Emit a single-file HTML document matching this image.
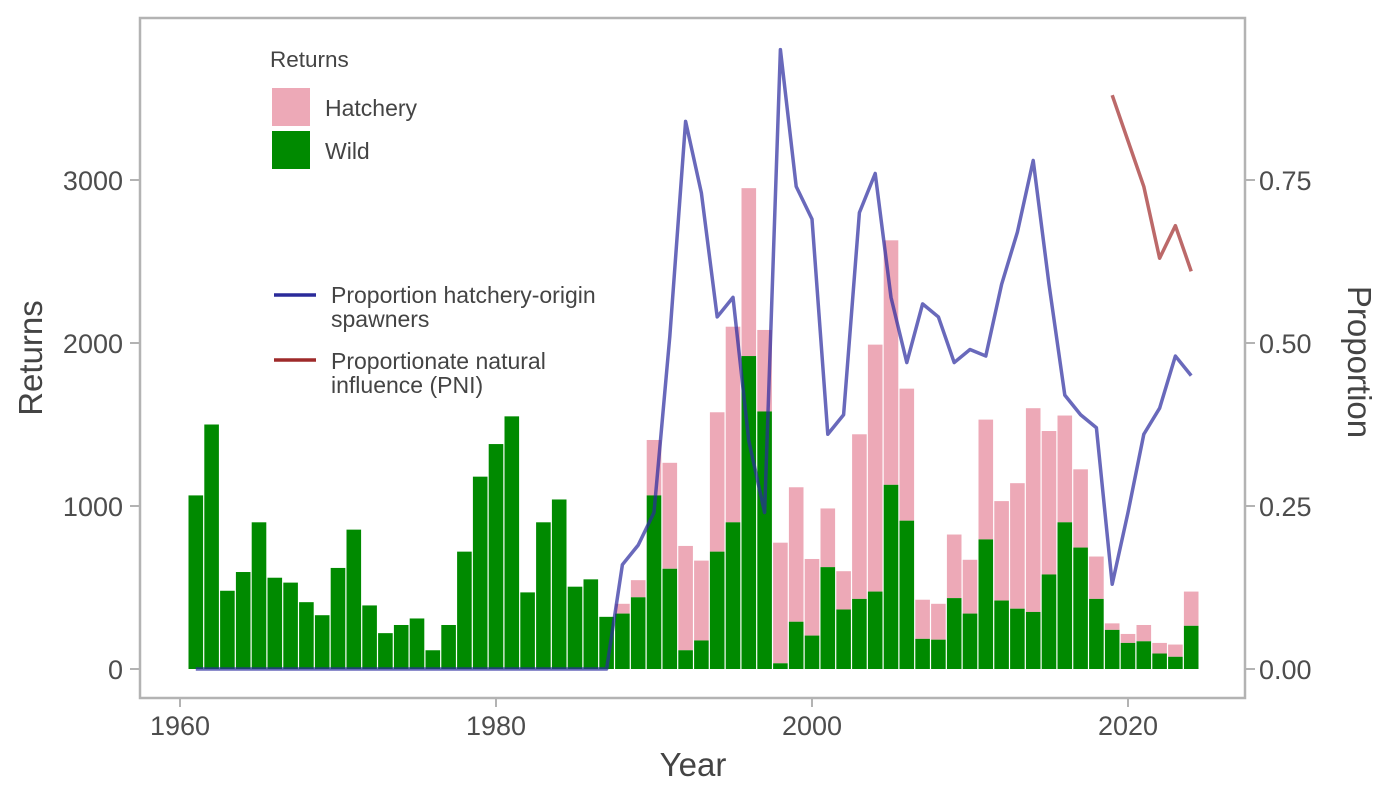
<!DOCTYPE html>
<html><head><meta charset="utf-8"><style>
body{margin:0;background:#fff;font-family:"Liberation Sans",Arial,sans-serif}
svg text{font-family:"Liberation Sans",Arial,sans-serif}
</style></head><body>
<svg id="c" width="1400" height="800">
<rect x="140" y="18" width="1105" height="680" fill="none" stroke="#b3b3b3" stroke-width="2.5"/>
<g id="bars"></g><g id="lines"></g><g id="axes"></g>
<g>
<text x="270" y="67" font-size="22.5" fill="#444">Returns</text>
<rect x="272" y="88" width="38" height="38" fill="#eda9b7"/>
<text x="325" y="116" font-size="23" fill="#444">Hatchery</text>
<rect x="272" y="131" width="38" height="38" fill="#008a00"/>
<text x="325" y="159" font-size="23" fill="#444">Wild</text>
</g>
<g>
<line x1="274" y1="295" x2="316" y2="295" stroke="#2a2a9a" stroke-width="3.5"/>
<text x="331" y="303" font-size="23" fill="#444">Proportion hatchery-origin</text>
<text x="331" y="327" font-size="23" fill="#444">spawners</text>
<line x1="274" y1="360" x2="316" y2="360" stroke="#9e2a2a" stroke-width="3.5"/>
<text x="331" y="369" font-size="23" fill="#444">Proportionate natural</text>
<text x="331" y="393" font-size="23" fill="#444">influence (PNI)</text>
</g>
<text x="693" y="776" font-size="33" fill="#444" text-anchor="middle">Year</text>
<text transform="translate(42,358) rotate(-90)" font-size="33" fill="#444" text-anchor="middle">Returns</text>
<text transform="translate(1348,362) rotate(90)" font-size="33" fill="#444" text-anchor="middle">Proportion</text>
</svg>
<script>
const years=[];for(let y=1961;y<=2024;y++)years.push(y);
const wild=[1065,1500,480,595,900,560,530,410,330,620,855,390,220,270,310,115,270,720,1180,1380,1550,470,900,1040,505,550,320,340,440,1065,615,115,175,720,900,1920,1580,35,290,205,625,365,430,475,1130,910,185,180,435,340,795,420,370,350,580,900,745,430,240,160,170,95,75,265];
const total=[1065,1500,480,595,900,560,530,410,330,620,855,390,220,270,310,115,270,720,1180,1380,1550,470,900,1040,505,550,320,400,545,1405,1265,755,665,1575,2100,2950,2080,775,1115,675,985,600,1440,1990,2630,1720,425,400,825,670,1530,1030,1140,1600,1460,1555,1225,690,280,215,270,160,150,475];
const phos=[0,0,0,0,0,0,0,0,0,0,0,0,0,0,0,0,0,0,0,0,0,0,0,0,0,0,0,0.16,0.19,0.24,0.51,0.84,0.73,0.54,0.57,0.35,0.24,0.95,0.74,0.69,0.36,0.39,0.70,0.76,0.57,0.47,0.56,0.54,0.47,0.49,0.48,0.59,0.67,0.78,0.59,0.42,0.39,0.37,0.13,0.24,0.36,0.40,0.48,0.45];
const pniYears=[2019,2020,2021,2022,2023,2024];
const pni=[0.88,0.81,0.74,0.63,0.68,0.61];
const xTicks=[1960,1980,2000,2020];
const yTicks=[0,1000,2000,3000];
const y2Ticks=[0,0.25,0.5,0.75];
const y2Labels=["0.00","0.25","0.50","0.75"];
const X=y=>180+(y-1960)*15.8, Y=v=>669-v*0.163, Y2=p=>669-p*652;
const NS="http://www.w3.org/2000/svg";
function mk(t,a,p){const e=document.createElementNS(NS,t);for(const k in a)e.setAttribute(k,a[k]);p.appendChild(e);return e;}
const bars=document.getElementById('bars'),lines=document.getElementById('lines'),axes=document.getElementById('axes');
years.forEach((yr,i)=>{
 if(total[i]>wild[i]){const r=mk('rect',{x:X(yr)-7.3,y:Y(total[i]),width:14.6,height:Y(wild[i])-Y(total[i]),fill:'#eda9b7'},bars);
 
 }
 const w=mk('rect',{x:X(yr)-7.3,y:Y(wild[i]),width:14.6,height:669-Y(wild[i]),fill:'#008a00'},bars);
 
 
});
const l1=mk('polyline',{points:years.map((y,i)=>X(y)+','+Y2(phos[i])).join(' '),fill:'none',stroke:'#2a2a9e','stroke-opacity':0.7,'stroke-width':3.5,'stroke-linejoin':'round'},lines);


const l2=mk('polyline',{points:pniYears.map((y,i)=>X(y)+','+Y2(pni[i])).join(' '),fill:'none',stroke:'#a02a2a','stroke-opacity':0.7,'stroke-width':3.5,'stroke-linejoin':'round'},lines);


xTicks.forEach(t=>{mk('line',{x1:X(t),x2:X(t),y1:698,y2:707,stroke:'#b3b3b3','stroke-width':2},axes);
 const e=mk('text',{x:X(t),y:735,'font-size':27,fill:'#4d4d4d','text-anchor':'middle'},axes);e.textContent=t;
 
 });
yTicks.forEach(t=>{mk('line',{x1:130,x2:140,y1:Y(t),y2:Y(t),stroke:'#b3b3b3','stroke-width':2},axes);
 const e=mk('text',{x:123,y:Y(t)+10,'font-size':27,fill:'#4d4d4d','text-anchor':'end'},axes);e.textContent=t;
 
 });
y2Ticks.forEach((t,i)=>{mk('line',{x1:1245,x2:1255,y1:Y2(t),y2:Y2(t),stroke:'#b3b3b3','stroke-width':2},axes);
 const e=mk('text',{x:1259,y:Y2(t)+10,'font-size':27,fill:'#4d4d4d'},axes);e.textContent=y2Labels[i];
 
 });
</script>
</body></html>
